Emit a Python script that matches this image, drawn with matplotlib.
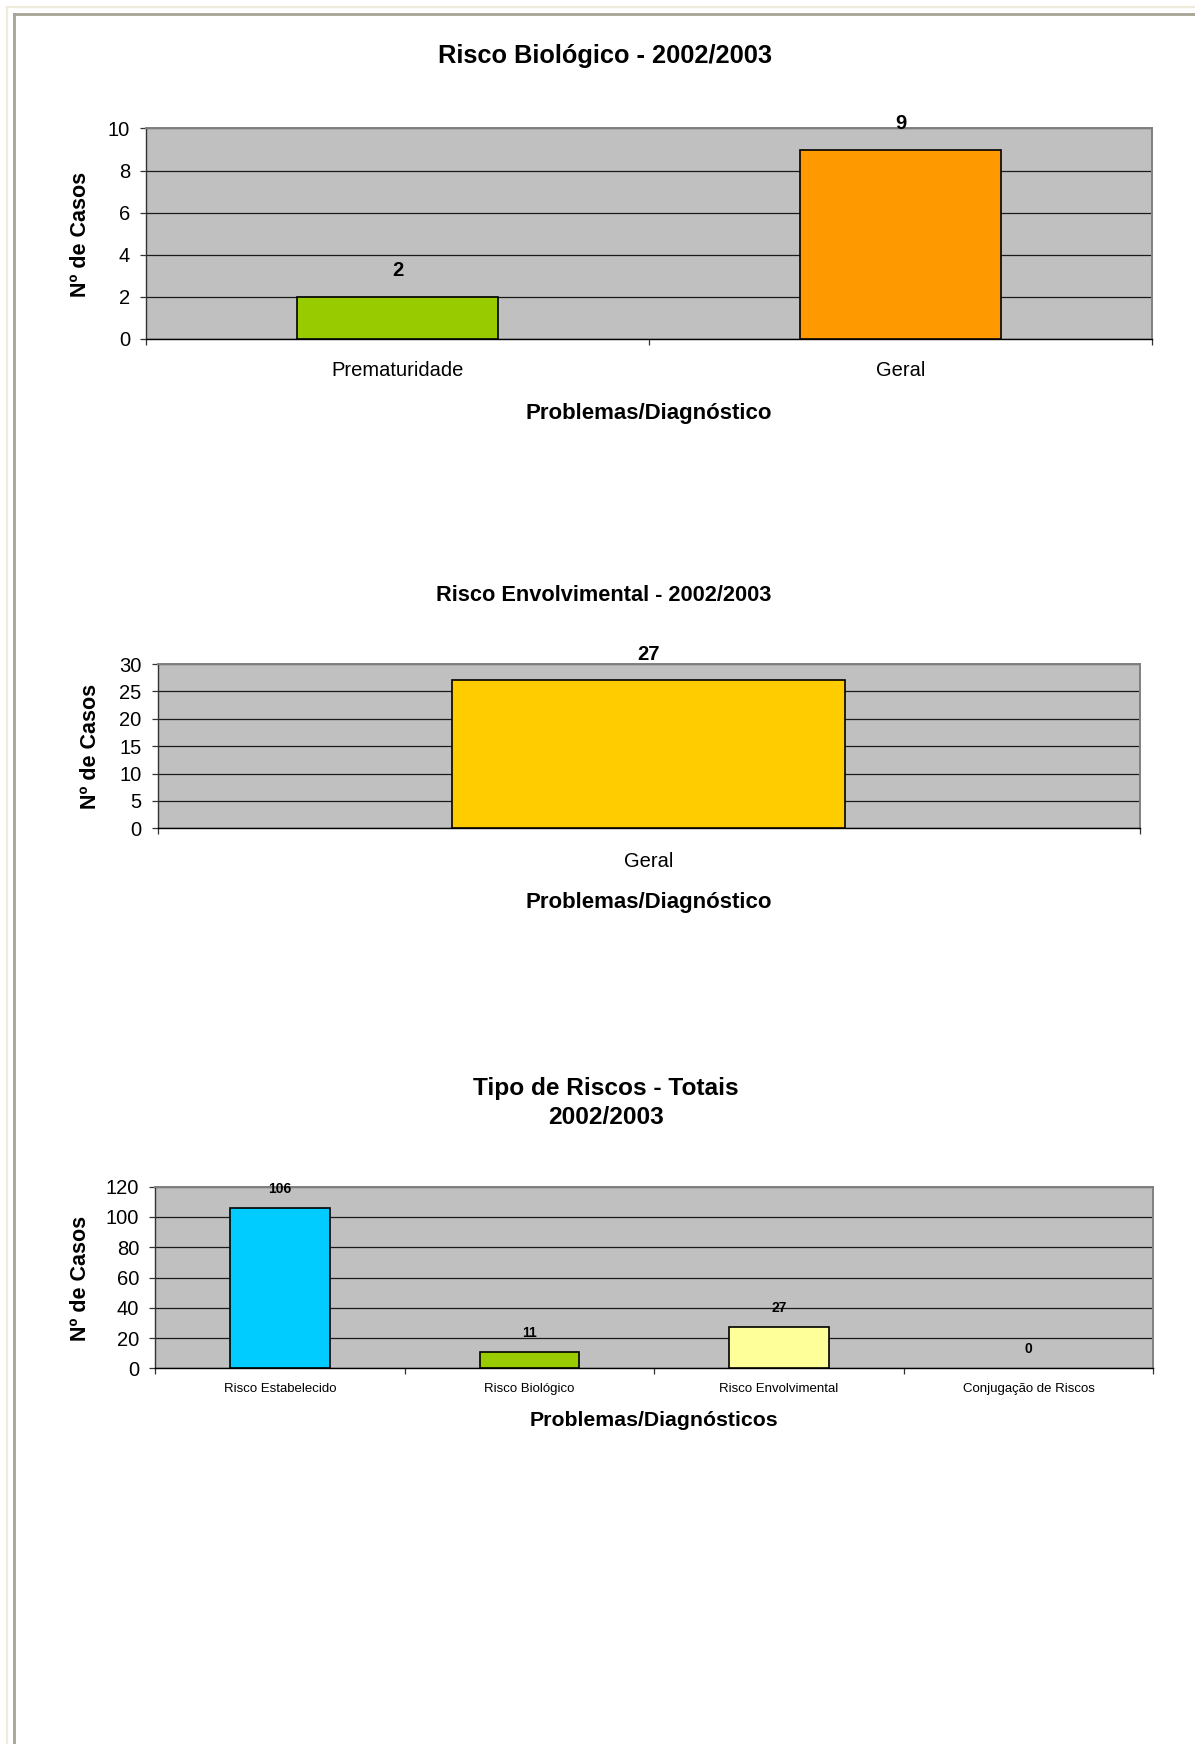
import matplotlib
matplotlib.use("Agg")
import matplotlib.pyplot as plt
from matplotlib.lines import Line2D

plt.rcParams['font.family'] = ['Liberation Sans', 'DejaVu Sans']

# ---- data ----
bio_categories = ["Prematuridade", "Geral"]
bio_values = [2, 9]
bio_colors = ["#99CC00", "#FF9900"]

env_categories = ["Geral"]
env_values = [27]
env_colors = ["#FFCC00"]

tot_categories = ["Risco Estabelecido", "Risco Biológico", "Risco Envolvimental", "Conjugação de Riscos"]
tot_values = [106, 11, 27, 0]
tot_colors = ["#00CCFF", "#99CC00", "#FFFF99", "#FFFF99"]

W, H = 1195, 1744
DPI = 100
fig = plt.figure(figsize=(W / DPI, H / DPI), dpi=DPI)
fig.patch.set_facecolor("white")


def px_rect(left, top, right, bottom):
    return [left / W, 1 - bottom / H, (right - left) / W, (bottom - top) / H]


def fx(x):
    return x / W


def fy(y):
    return 1 - y / H


# page frame lines (top and left)
for (x0, y0, x1, y1, c, lw) in [
    (7, 7.5, W, 7.5, "#EEEBDC", 1.6),
    (7, 7.5, 7, H, "#EEEBDC", 1.6),
    (14, 14.5, W, 14.5, "#A7A494", 2.0),
    (14, 14.5, 14, H, "#A7A494", 2.0),
]:
    fig.add_artist(Line2D([fx(x0), fx(x1)], [fy(y0), fy(y1)], color=c, lw=lw,
                          transform=fig.transFigure))


def bar_panel(rect, cats, vals, colors, ymax, ystep, tick_fs, xtick_fs, xtick_pad,
              val_fs, val_off):
    ax = fig.add_axes(px_rect(*rect))
    n = len(cats)
    x = list(range(n))
    ax.set_facecolor("#C0C0C0")
    edge_w = [1.2 if v > 0 else 0 for v in vals]
    ax.bar(x, vals, width=0.4, color=colors, edgecolor="black", linewidth=edge_w, zorder=3)
    ax.set_xlim(-0.5, n - 0.5)
    ax.set_ylim(0, ymax)
    ax.set_yticks(list(range(0, ymax + 1, ystep)))
    ax.yaxis.grid(True, color="#1a1a1a", linewidth=0.9, zorder=1)
    ax.set_axisbelow(True)
    ax.set_xticks(x)
    ax.set_xticklabels(cats, fontsize=xtick_fs)
    ax.set_xticks([i - 0.5 for i in range(n + 1)], minor=True)
    ax.tick_params(axis="x", which="major", length=0, pad=xtick_pad)
    ax.tick_params(axis="x", which="minor", length=4.5, width=0.9, color="#333333",
                   direction="out")
    ax.tick_params(axis="y", which="major", length=4.5, width=0.9, color="#333333",
                   direction="out", pad=7, labelsize=tick_fs)
    for side in ("top", "right"):
        ax.spines[side].set_color("#808080")
        ax.spines[side].set_linewidth(1.4)
    ax.spines["left"].set_color("#333333")
    ax.spines["left"].set_linewidth(1.0)
    ax.spines["bottom"].set_color("#000000")
    ax.spines["bottom"].set_linewidth(1.0)
    for xi, v in zip(x, vals):
        ax.annotate(str(v), (xi, v), xytext=(0, val_off), textcoords="offset points",
                    ha="center", va="center", fontsize=val_fs, fontweight="bold",
                    zorder=4)
    return ax


# ---- chart 1 ----
bar_panel((146, 128.5, 1152, 338.7), bio_categories, bio_values, bio_colors,
          10, 2, 14.5, 14.5, 15.9, 14.5, 18.7)
fig.text(fx(605), fy(55.5), "Risco Biológico - 2002/2003", ha="center", va="center",
         fontsize=18.3, fontweight="bold")
fig.text(fx(80), fy(234), "Nº de Casos", ha="center", va="center", rotation=90,
         fontsize=15.5, fontweight="bold")
fig.text(fx(649), fy(413), "Problemas/Diagnóstico", ha="center", va="center",
         fontsize=16, fontweight="bold")

# ---- chart 2 ----
bar_panel((157.7, 664, 1140, 828.3), env_categories, env_values, env_colors,
          30, 5, 14.5, 14.5, 16.9, 14.5, 18.7)
fig.text(fx(604), fy(595), "Risco Envolvimental - 2002/2003", ha="center", va="center",
         fontsize=15.7, fontweight="bold")
fig.text(fx(91), fy(746), "Nº de Casos", ha="center", va="center", rotation=90,
         fontsize=15.5, fontweight="bold")
fig.text(fx(649), fy(902), "Problemas/Diagnóstico", ha="center", va="center",
         fontsize=16, fontweight="bold")

# ---- chart 3 ----
bar_panel((155.3, 1186.7, 1153.3, 1368.3), tot_categories, tot_values, tot_colors,
          120, 20, 14.5, 9.5, 10.7, 10, 13.7)
fig.text(fx(606), fy(1103), "Tipo de Riscos - Totais\n2002/2003", ha="center",
         va="center", fontsize=17.6, fontweight="bold", linespacing=1.3)
fig.text(fx(80), fy(1278), "Nº de Casos", ha="center", va="center", rotation=90,
         fontsize=15.5, fontweight="bold")
fig.text(fx(654), fy(1420), "Problemas/Diagnósticos", ha="center", va="center",
         fontsize=15.3, fontweight="bold")

fig.savefig("out.png", dpi=DPI, facecolor="white")
